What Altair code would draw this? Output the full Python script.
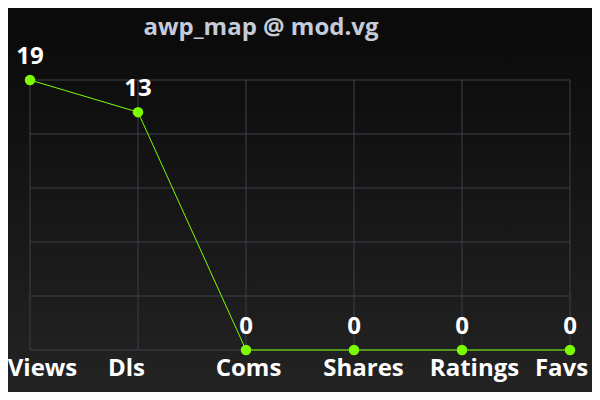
import math
import altair as alt
import pandas as pd

categories = ["Views", "Dls", "Coms", "Shares", "Ratings", "Favs"]
values = [19, 13, 0, 0, 0, 0]
title_text = "awp_map @ mod.vg"

df = pd.DataFrame({"cat": categories, "value": values})
ymax = math.log(20)
grid_df = pd.DataFrame({"g": [ymax * i / 5 for i in range(6)]})

W, H = 540, 270
GRID = "#3a4049"
GREEN = "#7cfc00"
FONT = "Open Sans"

xscale = alt.Scale(type="point", padding=0, domain=categories)
yscale = alt.Scale(domain=[0, ymax], nice=False, zero=True)

label_offset = {
    "condition": [
        {"test": "datum.value === 'Views'", "value": 12},
        {"test": "datum.value === 'Dls'", "value": -12},
        {"test": "datum.value === 'Coms'", "value": 2},
        {"test": "datum.value === 'Shares'", "value": 9},
        {"test": "datum.value === 'Ratings'", "value": 12},
        {"test": "datum.value === 'Favs'", "value": -9},
    ],
    "value": 0,
}

xaxis = alt.Axis(
    title=None, grid=False, ticks=False, domain=False, labelAngle=0,
    labelColor="#ffffff", labelFont=FONT, labelFontWeight="bold", labelFontSize=24,
    labelPadding=6, labelBound=False, labelOverlap=False, labelFlush=False,
    labelOffset=label_offset, zindex=1,
)

bg = alt.Chart(df.head(1)).mark_rect(
    color=alt.LinearGradient(
        gradient="linear",
        stops=[alt.GradientStop(color="#0c0c0c", offset=0),
               alt.GradientStop(color="#232323", offset=1)],
        x1=0, x2=0, y1=0, y2=1,
    )
).encode(x=alt.value(-22), x2=alt.value(562), y=alt.value(-30), y2=alt.value(312))

base = alt.Chart(df).transform_calculate(ly="log(datum.value + 1)")

vgrid = alt.Chart(df).mark_rule(color=GRID, strokeWidth=1).encode(
    x=alt.X("cat:N", scale=xscale, sort=categories, axis=xaxis)
)
hgrid = alt.Chart(grid_df).mark_rule(color=GRID, strokeWidth=1).encode(
    y=alt.Y("g:Q", scale=yscale, axis=None)
)

x = alt.X("cat:N", scale=xscale, sort=categories, axis=xaxis)
y = alt.Y("ly:Q", scale=yscale, axis=None)

line = base.mark_line(color=GREEN, strokeWidth=1).encode(x=x, y=y)
points = base.mark_circle(color=GREEN, size=110, opacity=1).encode(x=x, y=y)
labels = base.mark_text(
    dy=-16, baseline="alphabetic", font=FONT, fontWeight="bold", fontSize=24, color="#ffffff"
).encode(x=x, y=y, text="value:Q")

chart = alt.layer(bg, vgrid, hgrid, line, points, labels).properties(
    width=W, height=H,
    title=alt.TitleParams(
        text=title_text, anchor="middle", dx=-39, font=FONT, fontWeight="bold",
        fontSize=24, color="#c5cbd8", offset=5, zindex=1,
    ),
    autosize=alt.AutoSizeParams(type="none"),
    padding={"left": 22, "top": 72, "right": 22, "bottom": 42},
    background="#0b0b0b",
).configure_view(stroke=None)

chart.save("out.html", embed_options={"renderer": "svg", "actions": False})
